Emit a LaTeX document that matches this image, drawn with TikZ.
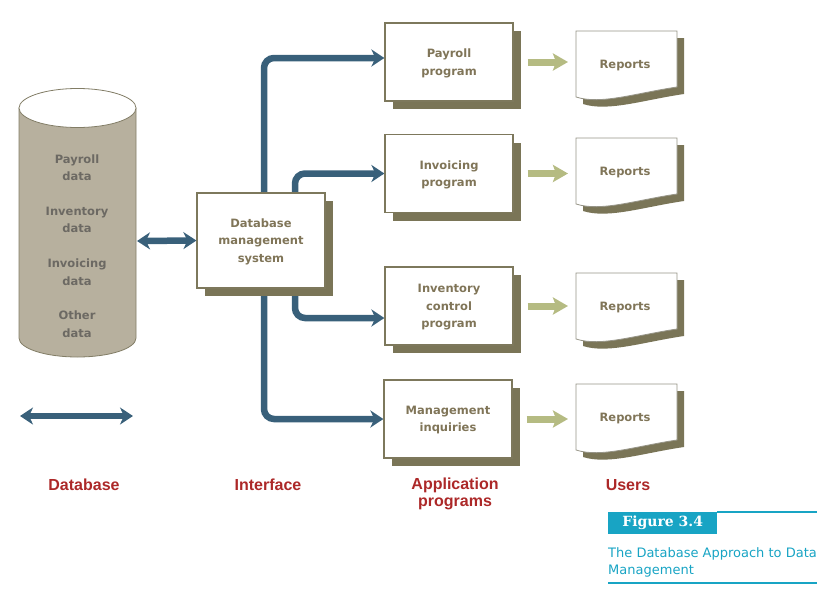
\documentclass[tikz,border=0pt]{standalone}
\usepackage{fontspec}
\setsansfont{Liberation Sans}
\newfontfamily\dinfont{DejaVu Sans}
\newfontfamily\tagfont{DejaVu Serif}
\usetikzlibrary{arrows.meta,backgrounds,shadows,calc}

\definecolor{linkblue}{RGB}{57,96,122}
\definecolor{arrgreen}{RGB}{181,187,130}
\definecolor{olivesh}{RGB}{122,117,87}
\definecolor{boxline}{RGB}{125,120,92}
\definecolor{boxtext}{RGB}{128,117,88}
\definecolor{docline}{RGB}{150,148,135}
\definecolor{dbline}{RGB}{130,125,102}
\definecolor{dbfill}{RGB}{183,176,158}
\definecolor{dbtext}{RGB}{108,105,99}
\definecolor{labred}{RGB}{172,40,40}
\definecolor{figcyan}{RGB}{24,164,196}

\tikzset{
prog/.style={draw=boxline,line width=1.2pt,fill=white,minimum width=128pt,minimum height=78pt,align=center,text=boxtext,
  font=\dinfont\bfseries\fontsize{11.5}{17.5}\selectfont,text depth=-3pt,
  drop shadow={shadow xshift=8pt,shadow yshift=-8pt,fill=olivesh,opacity=1}},
repname/.style={text=boxtext,font=\dinfont\bfseries\fontsize{11.5}{17.5}\selectfont,execute at begin node=\rule{0pt}{13pt}},
dbtxt/.style={align=center,text=dbtext,font=\dinfont\bfseries\fontsize{11.5}{17.5}\selectfont},
link/.style={draw=linkblue,line width=6.5pt,rounded corners=10pt,-{Stealth[length=13pt,width=17pt,inset=4pt]}},
twoway/.style={draw=linkblue,line width=6.5pt,{Stealth[length=13pt,width=17pt,inset=4pt]}-{Stealth[length=13pt,width=17pt,inset=4pt]}},
fwd/.style={draw=arrgreen,line width=7pt,-{Stealth[length=15pt,width=17pt,inset=3pt]}},
tierlabel/.style={text=labred,align=center,font=\sffamily\bfseries\fontsize{16}{17}\selectfont},
figtag/.style={fill=figcyan,text=white,inner sep=0pt,minimum width=109pt,minimum height=22pt,font=\tagfont\bfseries\fontsize{14}{14}\selectfont}
}

\begin{document}
\begin{tikzpicture}[x=1pt,y=-1pt]
\useasboundingbox (0,0) rectangle (824,589);

\draw[draw=dbline,fill=dbfill,line width=.8pt] (19,108) -- (19,338) arc[start angle=180,end angle=0,x radius=58.5,y radius=19] -- (136,108) -- cycle;
\draw[draw=dbline,fill=white,line width=.8pt] (77.5,108) ellipse[x radius=58.5,y radius=19.5];
\foreach \t/\y [count=\k] in {Payroll/167.5,Inventory/220,Invoicing/272,Other/324}
  \node[dbtxt] (data\k) at (77,\y) {\t\\data};
\coordinate (dbside) at (137,241);

\node[prog,minimum height=95pt] (dbms) at (261,240.5) {Database\\management\\system};
\node[prog] (pay) at (449,62) {Payroll\\program};
\node[prog] (inv) at (449,173.5) {Invoicing\\program};
\node[prog] (ctl) at (449,306) {Inventory\\control\\program};
\node[prog] (mgm) at (448,419) {Management\\inquiries};

\begin{scope}[on background layer]
\coordinate (trunk) at ([xshift=3pt]dbms.center);
\draw[link] (trunk) |- ([yshift=4pt]pay.west);
\draw[link] ([xshift=34pt]dbms.north) |- (inv.west);
\draw[link] ([xshift=34pt]dbms.south) |- ([yshift=-12pt]ctl.west);
\draw[link] (trunk) |- (mgm.west);
\end{scope}
\draw[twoway] (dbside) -- (dbms.west);

\foreach \i/\y in {1/31,2/138,3/273,4/384}{
\begin{scope}[shift={(576,\y)}]
\fill[olivesh] (7,7) -- (108,7) -- (108,63) .. controls (67,69) and (32,81) .. (7,73) -- cycle;
\draw[docline,fill=white,line width=.8pt] (0,0) coordinate (doc\i) -- (101,0) -- (101,56) .. controls (60,62) and (25,74) .. (0,66) -- cycle;
\node[repname] (rep\i) at (49,32) {Reports};
\end{scope}}
\foreach \p/\i in {pay/1,inv/2,ctl/3,mgm/4}
  \draw[fwd,shorten <=14pt,shorten >=8pt] (\p.east) -- (\p.east -| doc\i);

\coordinate (legl) at (20,416); \coordinate (legr) at (133,416);
\draw[twoway] (legl) -- (legr);

\node[tierlabel] (lbdb) at (84,485) {Database};
\node[tierlabel] (lbif) at (268,485) {Interface};
\node[tierlabel] (lbap) at (455,493.5) {Application\\programs};
\node[tierlabel] (lbus) at (628,485) {Users};

\node[figtag,anchor=north west] (fig) at (608,512) {Figure 3.4};
\draw[figcyan,line width=1.5pt] (fig.north east) -- (817,512) coordinate (figr);
\node[anchor=north west,inner sep=0pt,align=left,text=figcyan,font=\dinfont\fontsize{13}{17.5}\selectfont] (cap) at (608,547) {The Database Approach to Data\\Management};
\coordinate (capl) at (608,583);
\draw[figcyan,line width=1.5pt] (capl) -- (capl -| figr);
\end{tikzpicture}
\end{document}
